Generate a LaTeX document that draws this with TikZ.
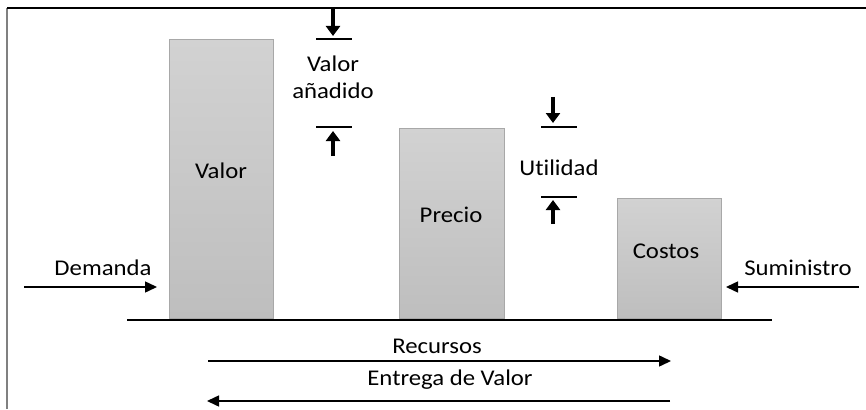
\documentclass[tikz,border=0pt]{standalone}
\usepackage{fontspec}
\setmainfont{Carlito}[FakeStretch=1.1,RawFeature=-liga]
\usetikzlibrary{arrows.meta}
\definecolor{bartop}{HTML}{D2D2D2}
\definecolor{barbot}{HTML}{BEBEBE}
\definecolor{baredge}{HTML}{A8A8A8}
\tikzset{
  bar/.style={draw=baredge, line width=1pt, top color=bartop, bottom color=barbot},
  lbl/.style={font=\fontsize{22.5}{27}\selectfont, inner sep=0pt, align=center},
  flow/.style={line width=1.5pt, -{Triangle[length=12pt,width=11pt]}},
  vflow/.style={line width=3.5pt, -{Triangle[length=10pt,width=14pt]}},
  tick/.style={line width=1.8pt},
}
\begin{document}
\begin{tikzpicture}[x=1pt,y=-1pt]
\useasboundingbox (0,0) rectangle (866,409);
% frame
\draw[line width=2pt, gray] (7,409) -- (7,8);
\draw[line width=1.6pt] (7,8) -- (866,8);
% bars
\draw[bar] (169,40) rectangle (273,318);
\draw[bar] (399,128) rectangle (504,318);
\draw[bar] (617,198) rectangle (721,318);
\node[lbl] (valor) at (221,171) {Valor};
\node[lbl] (precio) at (451,215) {Precio};
\node[lbl] (costos) at (666,251) {Costos};
% baseline
\coordinate (b1) at (127,320);
\coordinate (b2) at (772,320);
\draw[line width=2pt] (b1) -- (b2);
% demanda
\node[lbl] (dem) at (103,268) {Demanda};
\coordinate (d1) at (24,287);
\coordinate (d2) at (157,287);
\draw[flow] (d1) -- (d2);
% suministro
\node[lbl] (sum) at (798,268) {Suministro};
\coordinate (s1) at (859,287);
\coordinate (s2) at (726,287);
\draw[flow] (s1) -- (s2);
% valor anadido
\node[lbl] (va) at (333,77) {Valor\\añadido};
\coordinate (va1) at (333,9);
\coordinate (va2) at (333,36);
\draw[vflow] (va1) -- (va2);
\coordinate (vl1) at (316,39);
\coordinate (vl2) at (352,39);
\draw[tick] (vl1) -- (vl2);
\coordinate (vl3) at (316,127);
\coordinate (vl4) at (352,127);
\draw[tick] (vl3) -- (vl4);
\coordinate (vb1) at (333,156);
\coordinate (vb2) at (333,131);
\draw[vflow] (vb1) -- (vb2);
% utilidad
\node[lbl] (ut) at (559,168) {Utilidad};
\coordinate (u1) at (553,97);
\coordinate (u2) at (553,123);
\draw[vflow] (u1) -- (u2);
\coordinate (ul1) at (541,127);
\coordinate (ul2) at (577,127);
\draw[tick] (ul1) -- (ul2);
\coordinate (ul3) at (541,197);
\coordinate (ul4) at (577,197);
\draw[tick] (ul3) -- (ul4);
\coordinate (ub1) at (553,224);
\coordinate (ub2) at (553,200);
\draw[vflow] (ub1) -- (ub2);
% recursos / entrega
\node[lbl] (rec) at (437,346) {Recursos};
\coordinate (r1) at (208,361);
\coordinate (r2) at (671,361);
\draw[flow] (r1) -- (r2);
\node[lbl] (ent) at (450,380) {Entrega de Valor};
\coordinate (e1) at (670,401);
\coordinate (e2) at (207,401);
\draw[flow] (e1) -- (e2);
\end{tikzpicture}
\end{document}
